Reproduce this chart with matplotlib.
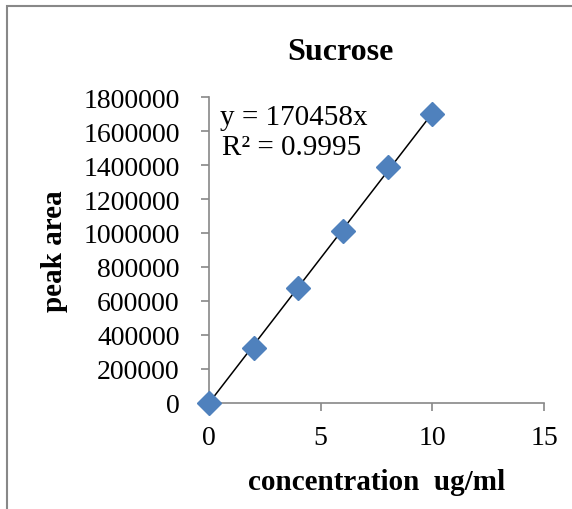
import matplotlib
matplotlib.use('Agg')
import matplotlib.pyplot as plt
from matplotlib.patches import Rectangle

# data
conc = [0, 2, 4, 6, 8, 10]
area = [0, 323000, 676000, 1012000, 1388000, 1700000]
slope = 170458
r2 = 0.9995
xticks = [0, 5, 10, 15]
yticks = list(range(0, 1800001, 200000))

plt.rcParams['font.family'] = ['Liberation Serif', 'DejaVu Serif']

fig = plt.figure(figsize=(5.72, 5.10), dpi=100)
ax = fig.add_axes([209/572, 1-404/510, 335/572, 306/510])

# chart border (Excel style), right and bottom edges fall outside the image
fig.patches.append(Rectangle((7/572, -0.1), 1.2, (1-7/510)+0.1, transform=fig.transFigure,
                             fill=False, edgecolor='#888888', linewidth=1.5))

fit_x = [0, 10]
fit_y = [slope * v for v in fit_x]
ax.plot(fit_x, fit_y, color='black', linewidth=1.1, zorder=2)
ax.plot(conc, area, linestyle='none', marker='D', markersize=12,
        color='#4F81BD', markeredgecolor='#4F81BD', clip_on=False, zorder=3)

ax.set_xlim(0, 15)
ax.set_ylim(0, 1800000)
ax.set_xticks(xticks)
ax.set_yticks(yticks)
ax.set_yticklabels([str(v) for v in yticks])

for s in ['top', 'right']:
    ax.spines[s].set_visible(False)
for s in ['left', 'bottom']:
    ax.spines[s].set_color('#888888')
    ax.spines[s].set_linewidth(1.2)
ax.tick_params(axis='both', direction='out', length=6, width=1.2, color='#888888',
               labelsize=20)
ax.tick_params(axis='y', pad=15)
ax.tick_params(axis='x', pad=10)

fig.text(340/572, 1-53/510, 'Sucrose', fontsize=23, fontweight='bold',
         ha='center', va='center')
ax.set_xlabel('concentration  ug/ml', fontsize=21, fontweight='bold', va='center')
ax.xaxis.set_label_coords(0.5, (404-483)/306)
ax.set_ylabel('peak area', fontsize=21, fontweight='bold', va='center')
ax.yaxis.set_label_coords((55-209)/335, 0.5)

ax.text(0.49, 1680000, 'y = %dx' % slope, fontsize=21, va='center', ha='left')
ax.text(0.6, 1505000, 'R² = %.4f' % r2, fontsize=21, va='center', ha='left')

fig.savefig('out.png', dpi=100)
